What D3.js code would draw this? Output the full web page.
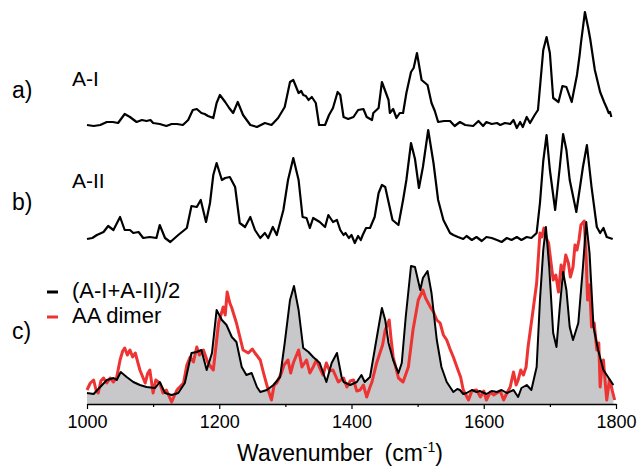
<!DOCTYPE html>
<html>
<head>
<meta charset="utf-8">
<script src="https://cdn.jsdelivr.net/npm/d3@7"></script>
<style>
  html, body { margin: 0; padding: 0; background: #fff; }
  svg text { font-family: "Liberation Sans", Arial, sans-serif; fill: #000; }
</style>
</head>
<body>
<svg id="chart" width="639" height="466"></svg>
<script>
// ---- data: [wavenumber (cm-1), intensity (a.u.)] ----
const seriesAI = [
  [1000,0.01],[1010,0.00],[1020,0.01],[1030,0.04],[1039,0.04],[1047,0.03],[1057,0.12],[1065,0.09],[1075,0.04],
  [1083,0.06],[1090,0.05],[1096,0.06],[1100,0.03],[1110,0.02],[1120,0.00],[1128,0.02],[1136,0.02],[1145,0.01],[1153,0.06],[1160,0.16],[1166,0.17],
  [1173,0.13],[1178,0.12],[1183,0.10],[1191,0.08],[1196,0.23],[1201,0.31],[1209,0.24],[1215,0.18],[1221,0.13],[1228,0.24],
  [1236,0.11],[1247,0.01],[1257,-0.01],[1263,0.01],[1269,0.03],[1279,0.01],[1289,0.08],[1299,0.19],[1307,0.44],
  [1312,0.46],[1320,0.33],[1324,0.35],[1327,0.31],[1331,0.30],[1335,0.26],[1340,0.29],[1346,0.23],[1351,0.01],[1360,0.01],
  [1366,0.11],[1372,0.18],[1379,0.34],[1383,0.31],[1388,0.09],[1395,0.07],[1403,0.09],[1410,0.16],
  [1418,0.17],[1423,0.09],[1431,0.06],[1433,0.13],[1441,0.18],[1446,0.44],[1451,0.35],[1456,0.26],
  [1458,0.13],[1463,0.17],[1468,0.08],[1473,0.13],[1478,0.13],[1483,0.33],[1490,0.54],[1494,0.58],[1499,0.73],
  [1506,0.46],[1515,0.41],[1521,0.23],[1526,0.15],[1531,0.04],[1540,0.05],[1549,0.05],[1556,0.00],[1564,0.04],
  [1572,0.01],[1584,0.00],[1592,0.05],[1599,0.00],[1604,0.04],[1612,0.02],[1620,0.03],[1625,0.01],[1632,0.03],
  [1640,0.02],[1645,0.06],[1650,-0.02],[1655,0.04],[1659,-0.01],[1665,0.09],[1670,0.03],[1677,0.11],[1682,0.16],
  [1690,0.76],[1695,0.89],[1700,0.73],[1705,0.28],[1713,0.24],[1719,0.40],[1725,0.39],[1733,0.24],[1741,0.51],
  [1745,0.71],[1747,0.83],[1753,1.14],[1758,0.98],[1761,0.87],[1768,0.56],[1776,0.34],[1782,0.24],[1786,0.18],[1789,0.13],[1791,0.14],[1793,0.09]
];
const seriesAII = [
  [1000,0.02],[1008,0.03],[1015,0.06],[1025,0.09],[1032,0.15],[1040,0.11],[1050,0.24],[1057,0.11],[1065,0.11],
  [1070,0.08],[1078,0.09],[1085,0.03],[1095,0.04],[1105,0.03],[1110,0.16],[1118,0.03],[1126,-0.01],[1138,0.06],
  [1151,0.13],[1158,0.35],[1166,0.34],[1172,0.41],[1180,0.19],[1186,0.38],[1191,0.66],[1196,0.78],
  [1204,0.61],[1209,0.63],[1216,0.64],[1224,0.54],[1231,0.18],[1239,0.14],[1247,0.24],[1254,0.11],
  [1262,0.03],[1269,0.08],[1274,0.03],[1281,0.14],[1287,0.06],[1297,0.31],[1304,0.61],[1312,0.83],
  [1320,0.61],[1326,0.24],[1332,0.23],[1337,0.13],[1342,0.23],[1352,0.19],[1360,0.14],[1365,0.26],
  [1372,0.19],[1378,0.21],[1383,0.11],[1388,0.06],[1391,0.08],[1396,0.03],[1400,0.06],[1405,-0.02],[1410,0.05],
  [1414,0.01],[1417,0.06],[1422,0.13],[1428,0.13],
  [1435,0.24],[1441,0.48],[1446,0.56],[1451,0.54],[1456,0.39],[1462,0.21],[1471,0.16],[1478,0.41],
  [1483,0.61],[1490,0.98],[1496,0.82],[1502,0.53],[1508,0.74],[1516,1.11],[1524,0.78],[1531,0.41],
  [1539,0.21],[1549,0.08],[1554,0.06],[1561,0.04],[1569,0.02],[1574,0.05],[1582,0.01],[1589,0.04],[1597,0.00],
  [1604,0.04],[1612,0.03],[1620,0.01],[1627,-0.01],[1635,0.03],[1642,0.01],[1650,0.04],[1657,0.01],[1665,0.04],
  [1672,0.03],[1680,0.08],
  [1685,0.38],[1690,0.80],[1695,1.06],[1700,0.71],[1708,0.31],[1715,0.74],[1720,1.07],[1725,0.91],[1730,0.61],
  [1740,0.29],[1750,0.74],[1756,0.96],[1763,0.54],[1771,0.14],[1776,0.08],[1781,0.13],[1786,0.04],
  [1795,0.02]
];
const seriesAvg = [
  [1000,0.02],[1010,0.01],[1020,0.08],[1030,0.15],[1040,0.17],[1045,0.15],[1051,0.23],[1060,0.18],
  [1070,0.13],[1080,0.10],[1090,0.08],[1103,0.07],[1110,0.13],[1118,0.02],[1128,0.00],[1138,0.02],
  [1148,0.12],[1158,0.42],[1166,0.43],[1173,0.45],[1181,0.25],[1189,0.42],[1196,0.85],[1204,0.75],
  [1211,0.70],[1219,0.58],[1226,0.53],[1234,0.28],[1241,0.20],[1249,0.22],[1257,0.08],[1262,0.03],
  [1272,0.05],[1282,0.10],[1292,0.18],[1299,0.52],[1307,0.95],[1313,1.09],[1320,0.85],[1327,0.47],
  [1335,0.43],[1342,0.38],[1352,0.32],[1362,0.13],[1370,0.32],[1378,0.42],[1385,0.18],[1388,0.13],
  [1398,0.10],[1408,0.13],[1415,0.20],[1420,0.13],[1428,0.18],[1435,0.45],[1442,0.72],[1446,0.87],
  [1451,0.75],[1456,0.52],[1463,0.35],[1471,0.22],[1476,0.32],[1482,0.78],[1490,1.29],[1496,1.28],
  [1504,1.05],[1508,1.17],[1515,1.24],[1521,1.02],[1529,0.55],[1536,0.28],[1544,0.13],[1554,0.03],
  [1560,0.06],[1564,0.05],[1569,0.01],[1574,0.02],[1582,0.05],[1589,0.03],[1594,0.04],[1604,0.01],[1612,0.04],
  [1620,0.03],[1627,0.05],[1635,0.02],[1645,0.05],[1652,-0.02],[1657,0.07],[1665,0.10],
  [1672,0.05],[1680,0.28],[1685,0.95],[1690,1.45],[1694,1.68],[1699,1.28],[1705,0.62],[1710,0.48],
  [1715,0.88],[1720,1.23],[1725,1.05],[1730,0.68],[1735,0.55],[1743,0.72],[1750,1.28],[1755,1.73],
  [1760,1.42],[1766,0.68],[1773,0.45],[1781,0.25],[1788,0.18],[1796,0.10]
];
const seriesDimer = [
  [1000,0.05],[1005,0.12],[1010,0.15],[1014,0.04],[1017,0.02],[1021,0.14],[1025,0.17],[1030,0.12],[1035,0.17],
  [1040,0.13],[1045,0.18],[1050,0.35],[1054,0.44],[1057,0.47],[1061,0.40],[1065,0.45],[1069,0.38],[1073,0.42],
  [1080,0.25],[1088,0.12],[1092,0.22],[1095,0.25],[1100,0.02],[1104,0.15],[1110,0.12],[1115,0.02],[1120,0.05],
  [1128,-0.07],[1136,0.05],[1146,0.12],[1151,0.30],[1156,0.38],[1161,0.33],[1166,0.48],[1170,0.40],[1176,0.45],[1183,0.32],[1191,0.25],
  [1199,0.72],[1206,0.88],[1209,0.80],[1212,1.03],[1216,0.92],[1219,0.87],[1226,0.72],[1236,0.45],[1244,0.42],[1250,0.46],[1254,0.42],
  [1262,0.35],[1267,0.22],[1274,0.05],[1279,-0.05],[1283,0.10],[1287,0.12],[1294,0.22],[1298,0.30],[1304,0.35],[1308,0.22],[1312,0.32],
  [1320,0.45],[1325,0.28],[1332,0.35],[1337,0.22],[1342,0.28],[1347,0.35],[1352,0.27],[1357,0.20],[1362,0.32],[1367,0.24],[1372,0.25],[1380,0.13],
  [1388,0.17],[1393,0.08],[1398,0.14],[1403,0.15],[1408,0.04],[1413,0.05],[1418,0.10],[1423,-0.02],[1428,0.08],[1431,0.13],[1438,0.32],[1443,0.42],
  [1447,0.50],[1451,0.65],[1457,0.75],[1460,0.55],[1463,0.38],[1471,0.17],[1478,0.13],[1486,0.28],[1493,0.65],[1501,0.95],
  [1508,1.05],[1512,0.97],[1516,0.92],[1520,0.87],[1524,0.83],[1529,0.75],[1534,0.72],[1539,0.60],[1544,0.55],[1549,0.46],[1554,0.38],[1561,0.25],[1565,0.18],[1569,0.05],
  [1577,-0.05],[1582,0.04],[1589,0.05],[1595,-0.02],[1600,0.04],[1604,-0.05],[1610,0.03],[1615,0.00],[1620,0.02],[1625,0.04],[1630,-0.05],[1635,0.02],[1640,0.08],[1645,0.23],[1649,0.10],[1652,0.15],
  [1656,0.25],[1660,0.20],[1664,0.28],[1667,0.48],[1674,0.82],[1680,1.12],[1685,1.62],[1688,1.58],[1691,1.67],[1695,1.56],[1698,1.52],[1705,1.15],
  [1709,1.20],[1713,1.03],[1717,1.30],[1720,1.20],[1724,1.40],[1728,1.32],[1731,1.18],[1735,1.28],[1738,1.50],[1741,1.45],[1744,1.55],[1747,1.70],[1752,1.74],[1755,1.35],[1757,0.95],
  [1760,1.10],[1763,0.68],[1767,0.72],[1771,0.45],[1774,0.52],[1776,0.08],[1779,0.30],[1781,0.35],[1784,0.10],[1786,-0.05],[1790,0.15],[1793,0.08],[1798,-0.05]
];
const majorTicks = [1000, 1200, 1400, 1600, 1800];
const minorTicks = [1100, 1300, 1500, 1700];
const panelLetters = ["a)", "b)", "c)"];
const traceNames = ["A-I", "A-II"];
const legendLabels = ["(A-I+A-II)/2", "AA dimer"];

// ---- layout / style ----
const offsets = { AI: 2.69, AII: 1.54, avg: 0 };
const svg = d3.select("#chart");
const x = d3.scaleLinear().domain([1000, 1800]).range([87, 616]);
const y = d3.scaleLinear().domain([-0.09, 3.95]).range([404, 0]);
const font = '"Liberation Sans", Arial, sans-serif';

const lineGen = off => d3.line().x(d => x(d[0])).y(d => y(d[1] + off)).curve(d3.curveLinear);

// grey fill under the average spectrum
svg.append("path")
  .datum(seriesAvg)
  .attr("fill", "#c8c8ca")
  .attr("d", d3.area().x(d => x(d[0])).y0(y(-0.09)).y1(d => y(d[1])));

// AA dimer (red)
svg.append("path").datum(seriesDimer)
  .attr("fill", "none").attr("stroke", "#ee3333").attr("stroke-width", 3)
  .attr("stroke-linejoin", "round")
  .attr("d", lineGen(offsets.avg));

// average (black)
svg.append("path").datum(seriesAvg)
  .attr("fill", "none").attr("stroke", "#000").attr("stroke-width", 2)
  .attr("stroke-linejoin", "round")
  .attr("d", lineGen(offsets.avg));

// A-I and A-II traces
svg.append("path").datum(seriesAI)
  .attr("fill", "none").attr("stroke", "#000").attr("stroke-width", 2.2)
  .attr("stroke-linejoin", "round")
  .attr("d", lineGen(offsets.AI));
svg.append("path").datum(seriesAII)
  .attr("fill", "none").attr("stroke", "#000").attr("stroke-width", 2.2)
  .attr("stroke-linejoin", "round")
  .attr("d", lineGen(offsets.AII));

// x axis
const axisY = y(-0.09);
const gMinor = svg.append("g").attr("transform", `translate(0,${axisY})`)
  .call(d3.axisBottom(x).tickValues(minorTicks).tickSize(3).tickSizeOuter(0).tickFormat(""));
gMinor.select(".domain").remove();
gMinor.selectAll("line").attr("stroke", "#000").attr("stroke-width", 1.2);

const gAxis = svg.append("g").attr("transform", `translate(0,${axisY})`)
  .call(d3.axisBottom(x).tickValues(majorTicks).tickSize(5).tickSizeOuter(0).tickPadding(6)
    .tickFormat(d3.format("d")));
gAxis.select(".domain").attr("stroke", "#000").attr("stroke-width", 1.4);
gAxis.selectAll("line").attr("stroke", "#000").attr("stroke-width", 1.2);
gAxis.selectAll("text").attr("font-size", 18).attr("font-family", font).attr("fill", "#000");

// axis title
const title = svg.append("text")
  .attr("x", 340).attr("y", 461).attr("text-anchor", "middle")
  .attr("font-size", 23);
title.append("tspan").text("Wavenumber\u2002(cm");
title.append("tspan").attr("font-size", 14).attr("dy", -9).text("-1");
title.append("tspan").attr("dy", 9).text(")");

// panel letters
const letterY = [98, 210, 339];
panelLetters.forEach((t, i) => {
  svg.append("text").attr("x", 12).attr("y", letterY[i]).attr("font-size", 23).text(t);
});
// trace names
const nameY = [86, 188];
traceNames.forEach((t, i) => {
  svg.append("text").attr("x", 72).attr("y", nameY[i]).attr("font-size", 21).text(t);
});

// legend
const legColors = ["#000", "#ee3333"];
const legY = [298, 323];
legendLabels.forEach((t, i) => {
  svg.append("line").attr("x1", 47).attr("x2", 58)
    .attr("y1", legY[i] - 6).attr("y2", legY[i] - 6)
    .attr("stroke", legColors[i]).attr("stroke-width", 3);
  svg.append("text").attr("x", 72).attr("y", legY[i]).attr("font-size", 22).text(t);
});
</script>
</body>
</html>
